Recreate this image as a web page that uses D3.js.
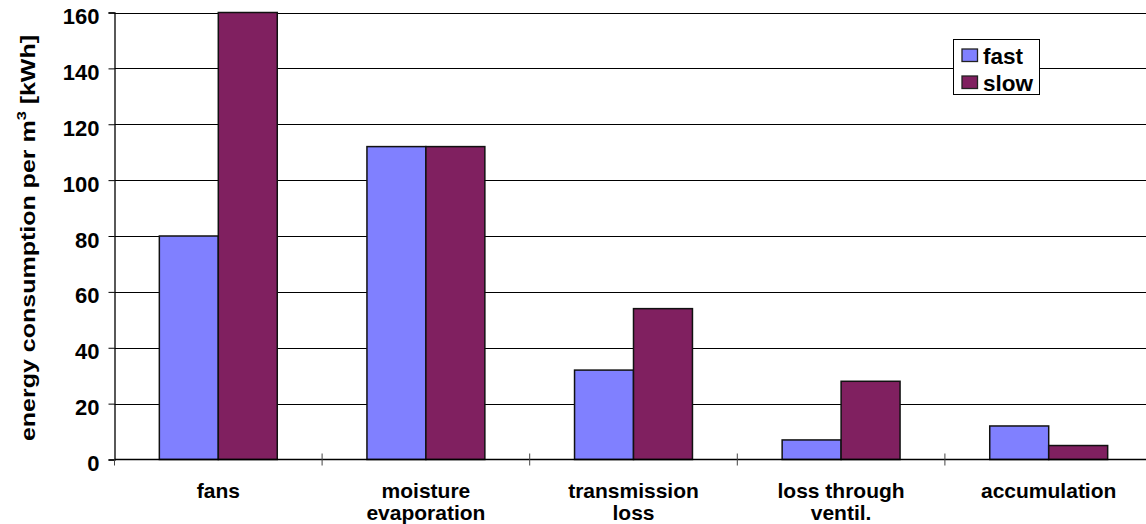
<!DOCTYPE html>
<html>
<head>
<meta charset="utf-8">
<style>
  body { margin: 0; background: #fff; }
  svg text { font-family: "Liberation Sans", Arial, sans-serif; font-weight: bold; fill: #000; }
</style>
</head>
<body>
<svg id="chart" width="1146" height="524"></svg>
<script src="https://cdn.jsdelivr.net/npm/d3@7"></script>
<script>
const categories = [["fans"], ["moisture", "evaporation"], ["transmission", "loss"], ["loss through", "ventil."], ["accumulation"]];
const seriesNames = ["fast", "slow"];
const fastValues = [80, 112, 32, 7, 12];
const slowValues = [160, 112, 54, 28, 5];
const yTicks = [0, 20, 40, 60, 80, 100, 120, 140, 160];
const colors = ["#8080ff", "#802060"];

const svg = d3.select("#chart");
const plotLeft = 114.5, plotRight = 1152.5, plotTop = 12.5, plotBottom = 459.5;

const catKeys = categories.map(c => c.join(" "));
const x0 = d3.scaleBand().domain(catKeys).range([plotLeft, plotRight]).paddingInner(0.432).paddingOuter(0.216);
const x1 = d3.scaleBand().domain(seriesNames).range([0, x0.bandwidth()]);
const y = d3.scaleLinear().domain([0, 160]).range([plotBottom, plotTop]);

// y axis
const yAxis = d3.axisLeft(y).tickValues(yTicks).tickSize(6).tickPadding(9);
const yg = svg.append("g").attr("transform", `translate(${plotLeft},0)`).call(yAxis);
yg.select(".domain").attr("stroke", "#000").attr("stroke-width", 1.3);
yg.selectAll(".tick line").attr("stroke", "#000");
yg.selectAll(".tick text").style("font-size", "22px").attr("dy", "0.5em");

// gridlines
svg.append("g").selectAll("line").data(yTicks.filter(d => d > 0)).join("line")
  .attr("x1", plotLeft).attr("x2", 1146)
  .attr("y1", d => Math.round(y(d)) + 0.5).attr("y2", d => Math.round(y(d)) + 0.5)
  .attr("stroke", "#000").attr("stroke-width", 1);

// bars
const rows = catKeys.map((k, i) => ({ key: k, values: [fastValues[i], slowValues[i]] }));
svg.append("g").selectAll("g").data(rows).join("g")
  .attr("transform", d => `translate(${x0(d.key)},0)`)
  .selectAll("rect").data(d => d.values.map((v, j) => ({ name: seriesNames[j], v, j })))
  .join("rect")
  .attr("x", d => x1(d.name))
  .attr("y", d => y(d.v))
  .attr("width", x1.bandwidth())
  .attr("height", d => plotBottom - y(d.v))
  .attr("fill", d => colors[d.j])
  .attr("stroke", "#111").attr("stroke-width", 1.5);

// x axis
svg.append("line").attr("x1", plotLeft).attr("x2", 1146).attr("y1", plotBottom).attr("y2", plotBottom)
  .attr("stroke", "#000").attr("stroke-width", 1.3);
const step = x0.step();
svg.append("g").selectAll("line").data(d3.range(catKeys.length + 1)).join("line")
  .attr("x1", i => plotLeft + i * step).attr("x2", i => plotLeft + i * step)
  .attr("y1", i => i === 0 ? plotBottom : plotBottom - 6).attr("y2", plotBottom + 6)
  .attr("stroke", "#444").attr("stroke-width", 1);
svg.append("g").selectAll("text").data(categories).join("text")
  .attr("x", (d, i) => x0(catKeys[i]) + x0.bandwidth() / 2)
  .attr("y", 498)
  .attr("text-anchor", "middle")
  .style("font-size", "21px")
  .selectAll("tspan").data(d => d).join("tspan")
  .attr("x", function () { return d3.select(this.parentNode).attr("x"); })
  .attr("dy", (d, i) => i === 0 ? 0 : 22)
  .text(d => d);

// y axis label
const yl = svg.append("text")
  .attr("transform", "translate(35,238) rotate(-90) scale(1.25,1)")
  .attr("text-anchor", "middle")
  .style("font-size", "20px");
yl.append("tspan").text("energy consumption per m");
yl.append("tspan").attr("dy", -9).style("font-size", "13px").text("3");
yl.append("tspan").attr("dy", 9).text(" [kWh]");

// legend
const lg = svg.append("g").attr("transform", "translate(953.5,39.5)");
lg.append("rect").attr("width", 86).attr("height", 55).attr("fill", "#fff").attr("stroke", "#000").attr("stroke-width", 1);
seriesNames.forEach((n, i) => {
  lg.append("rect").attr("x", 8.5).attr("y", 9.5 + i * 27).attr("width", 15.5).attr("height", 12.5)
    .attr("fill", colors[i]).attr("stroke", "#222").attr("stroke-width", 1.3);
  lg.append("text").attr("x", 29.5).attr("y", 24 + i * 27.5).style("font-size", "22.5px").text(n);
});
</script>
</body>
</html>
